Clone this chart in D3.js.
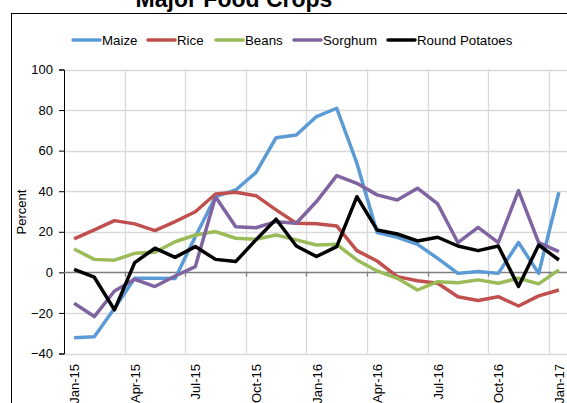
<!DOCTYPE html>
<html><head><meta charset="utf-8">
<script src="https://cdn.jsdelivr.net/npm/d3@7"></script>
<style>body{margin:0;background:#fff;font-family:"Liberation Sans",Arial,sans-serif;}</style>
</head><body><svg id="c" width="567" height="403"></svg>
<script>
const months = ["Jan-15","Feb-15","Mar-15","Apr-15","May-15","Jun-15","Jul-15","Aug-15","Sep-15","Oct-15","Nov-15","Dec-15",
"Jan-16","Feb-16","Mar-16","Apr-16","May-16","Jun-16","Jul-16","Aug-16","Sep-16","Oct-16","Nov-16","Dec-16","Jan-17"];
const maize    = [-32.2,-31.7,-17.7,-2.9,-2.9,-3.0,17.6,37.3,40.6,49.2,66.4,67.7,76.8,80.9,53.8,19.6,17.3,13.8,6.9,-0.5,0.4,-0.5,14.7,-0.5,39.5];
const rice     = [16.5,20.9,25.5,23.9,20.6,25.0,29.9,38.6,39.5,37.8,30.8,24.2,24.0,22.9,10.7,5.6,-2.1,-4.1,-5.4,-12.0,-13.9,-12.0,-16.6,-11.6,-8.7];
const beans    = [11.5,6.4,6.0,9.4,9.9,15.1,18.4,20.1,16.8,16.3,18.4,16.0,13.5,13.8,6.1,0.7,-2.9,-8.7,-4.6,-5.1,-3.7,-5.4,-2.9,-5.7,1.2];
const sorghum  = [-15.2,-21.8,-9.2,-3.4,-7.0,-1.8,2.8,37.3,22.5,22.0,25.0,24.2,34.9,47.7,43.9,38.2,35.7,41.5,33.7,14.7,22.2,14.7,40.3,14.7,10.2];
const potatoes = [1.5,-2.4,-18.5,4.8,11.9,7.4,12.7,6.4,5.3,16.0,26.2,13.0,7.8,12.7,37.3,20.9,18.9,15.5,17.3,13.0,10.7,13.0,-7.0,13.5,6.1];
const seriesNames = ["Maize","Rice","Beans","Sorghum","Round Potatoes"];
const seriesColors = ["#5B9BD5","#C0504D","#9BBB59","#8064A2","#000000"];
const yTicks = [-40,-20,0,20,40,60,80,100];
const xLabels = ["Jan-15","Apr-15","Jul-15","Oct-15","Jan-16","Apr-16","Jul-16","Oct-16","Jan-17"];
const title = "Major Food Crops";

(function(){
const svg = d3.select("#c");
const pLeft = 64, pTop = 69.5, pBottom = 353.5, bw = 20.2;
const x = d3.scaleBand().domain(months).range([pLeft, pLeft + months.length*bw]).padding(0);
const y = d3.scaleLinear().domain([-40,100]).range([pBottom, pTop]);

svg.append("rect").attr("x",11.5).attr("y",13.5).attr("width",600).attr("height",420)
  .attr("fill","none").attr("stroke","#000").attr("stroke-width",1);

svg.append("text").attr("x",234).attr("y",6.5).attr("text-anchor","middle")
  .attr("font-size",23).attr("font-weight","bold").text(title);

svg.append("g").selectAll("line").data(yTicks.filter(d=>d!==0)).join("line")
  .attr("x1",pLeft).attr("x2",567).attr("y1",d=>Math.round(y(d))+0.5).attr("y2",d=>Math.round(y(d))+0.5)
  .attr("stroke","#d9d9d9").attr("stroke-width",1.3);
const vIdx = d3.range(3, months.length+1, 3);
svg.append("g").selectAll("line").data(vIdx).join("line")
  .attr("x1",i=>Math.round(pLeft+i*x.bandwidth())+0.5).attr("x2",i=>Math.round(pLeft+i*x.bandwidth())+0.5)
  .attr("y1",pTop).attr("y2",pBottom).attr("stroke","#d9d9d9").attr("stroke-width",1.3);

const yAxis = d3.axisLeft(y).tickValues(yTicks).tickSize(5).tickPadding(6);
const gy = svg.append("g").attr("transform",`translate(${pLeft},0)`).call(yAxis);
gy.select(".domain").attr("stroke","#000");
gy.selectAll(".tick line").attr("stroke","#000");
gy.selectAll("text").attr("font-size",13).attr("font-family","Liberation Sans, Arial, sans-serif").attr("fill","#000");

const y0 = Math.round(y(0))+0.5;
svg.append("line").attr("x1",pLeft).attr("x2",567).attr("y1",y0).attr("y2",y0).attr("stroke","#7f7f7f").attr("stroke-width",1.5);
svg.append("g").selectAll("line").data(vIdx).join("line")
  .attr("x1",i=>Math.round(pLeft+i*x.bandwidth())+0.5).attr("x2",i=>Math.round(pLeft+i*x.bandwidth())+0.5)
  .attr("y1",y0).attr("y2",y0+4).attr("stroke","#7f7f7f").attr("stroke-width",1.3);

svg.append("g").selectAll("text").data(xLabels).join("text")
  .attr("transform",d=>`translate(${x(d)+x.bandwidth()/2+5},364) rotate(-90)`)
  .attr("text-anchor","end").attr("font-size",13).text(d=>d);

svg.append("text").attr("transform","translate(26,212) rotate(-90)").attr("text-anchor","middle")
  .attr("font-size",13).text("Percent");

const allSeries = [maize, rice, beans, sorghum, potatoes];
const line = d3.line().x((d,i)=>x(months[i])+x.bandwidth()/2).y(d=>y(d));
allSeries.forEach((s,k)=>{
  svg.append("path").datum(s).attr("d",line).attr("fill","none")
    .attr("stroke",seriesColors[k]).attr("stroke-width",3.5).attr("stroke-linejoin","round");
});

const legX = [73,148,216,294,388];
const lg = svg.append("g");
seriesNames.forEach((n,k)=>{
  lg.append("line").attr("x1",legX[k]).attr("x2",legX[k]+27).attr("y1",40).attr("y2",40)
    .attr("stroke",seriesColors[k]).attr("stroke-width",3.5).attr("stroke-linecap","round");
  lg.append("text").attr("x",legX[k]+29).attr("y",44.5).attr("font-size",13.3).text(n);
});
})();
</script></body></html>
